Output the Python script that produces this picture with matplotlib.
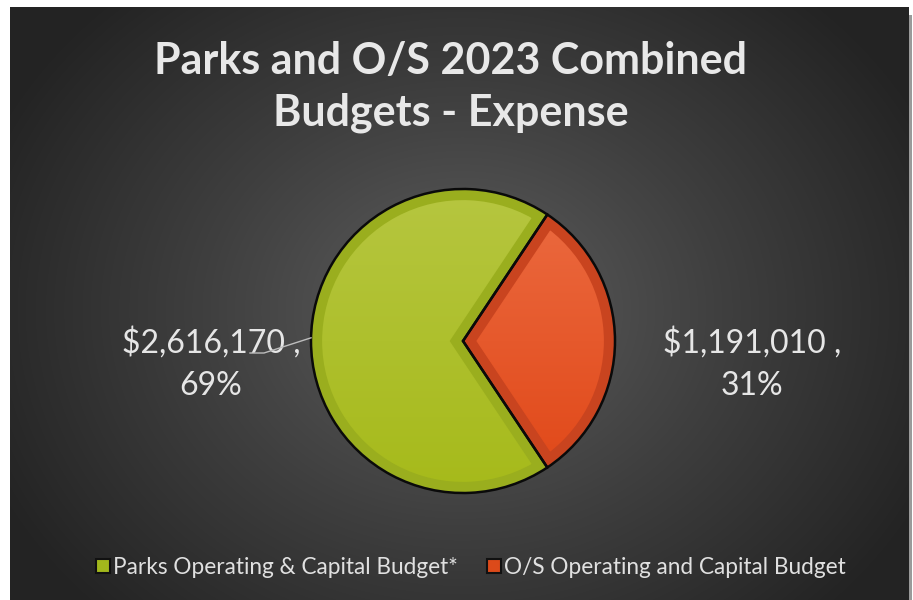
import numpy as np
import matplotlib.pyplot as plt
from matplotlib.patches import Rectangle, Wedge
from matplotlib.lines import Line2D
from matplotlib.colors import LinearSegmentedColormap

# budget data
labels = ['Parks Operating & Capital Budget*', 'O/S Operating and Capital Budget']
amounts = [2616170, 1191010]
legend_colors = ['#a2b81c', '#dc4a1a']
fill_top = ['#b6c640', '#ec6c42']
fill_bottom = ['#a6ba1a', '#e04616']
band_colors = ['#9aae1e', '#c9441f']

W, H = 913, 600
plt.rcParams['font.family'] = ['Lato', 'DejaVu Sans']

fig = plt.figure(figsize=(W / 100, H / 100), dpi=100)
fig.patch.set_facecolor('white')
ax = fig.add_axes([0, 0, 1, 1])

# dark panel with a radial glow in the middle
px0, px1, py0, py1 = 10, 909, 0, 593
yy, xx = np.mgrid[py1:py0:-1, px0:px1]
d = np.sqrt(((xx - 462) / 520.0) ** 2 + ((yy - 290) / 430.0) ** 2)
d = np.clip(d, 0, 1)
bg = LinearSegmentedColormap.from_list('bg', ['#5e5e5e', '#3f3f3f', '#232323'])
ax.add_patch(Rectangle((px1, 0), 3, py1 - 8, color='#9a9a9a', lw=0, zorder=0))
ax.imshow(d, cmap=bg, vmin=0, vmax=1, extent=(px0, px1, py0, py1),
          aspect='auto', zorder=0.5, interpolation='bilinear')

# pie
cx, cy, r = 463, H - 341, 152
total = sum(amounts)
start = 180 * amounts[1] / total
wedges, _ = ax.pie(amounts, colors=legend_colors, startangle=start,
                   center=(cx, cy), radius=r,
                   wedgeprops=dict(edgecolor='none', linewidth=0))

grad = np.linspace(0, 1, 256).reshape(-1, 1)
for w, top, bot, band in zip(wedges, fill_top, fill_bottom, band_colors):
    w.set_zorder(1)
    cm = LinearSegmentedColormap.from_list('f', [top, bot])
    im = ax.imshow(grad, cmap=cm, extent=(cx - r, cx + r, cy - r, cy + r),
                   origin='upper', aspect='auto', zorder=2)
    im.set_clip_path(w)
    inner = Wedge((cx, cy), r, w.theta1, w.theta2, facecolor='none',
                  edgecolor=band, lw=16, joinstyle='miter', zorder=3)
    ax.add_patch(inner)
    inner.set_clip_path(w)
    ax.add_patch(Wedge((cx, cy), r, w.theta1, w.theta2, facecolor='none',
                       edgecolor='#0a0a0a', lw=1.8, zorder=4))

# value labels
pcts = [round(100 * v / total) for v in amounts]
texts = [f'${v:,} ,\n{p}%' for v, p in zip(amounts, pcts)]
ax.text(211, H - 364, texts[0], ha='center', va='center', fontsize=23,
        color='#e6e6e6', linespacing=1.5, zorder=5)
ax.text(752, H - 364, texts[1], ha='center', va='center', fontsize=23,
        color='#e6e6e6', linespacing=1.5, zorder=5)

# leader line for the left label
ang = np.radians(178.8)
ex, ey = cx + r * np.cos(ang), cy + r * np.sin(ang)
ax.plot([250, 264, ex], [H - 353, H - 353, ey], color='#bdbdbd', lw=1, zorder=5)

# title
ax.text(451, H - 87, 'Parks and O/S 2023 Combined\nBudgets - Expense',
        ha='center', va='center', fontsize=31, fontweight='bold',
        color='#e8e8e8', linespacing=1.35, zorder=5)

# legend
handles = [Line2D([], [], ls='none', marker='s', markersize=10,
                  markerfacecolor=c, markeredgecolor='#111111', markeredgewidth=1.5)
           for c in legend_colors]
leg = ax.legend(handles, labels, loc='center', bbox_to_anchor=(471 / W, 33 / H),
                ncol=2, frameon=False, fontsize=16.3, labelcolor='#e0e0e0',
                handlelength=0.6, handletextpad=0.15, columnspacing=1.3)

ax.set_xlim(0, W)
ax.set_ylim(0, H)
ax.set_aspect('auto')
ax.axis('off')

fig.savefig('out.png', dpi=100, facecolor='white')
